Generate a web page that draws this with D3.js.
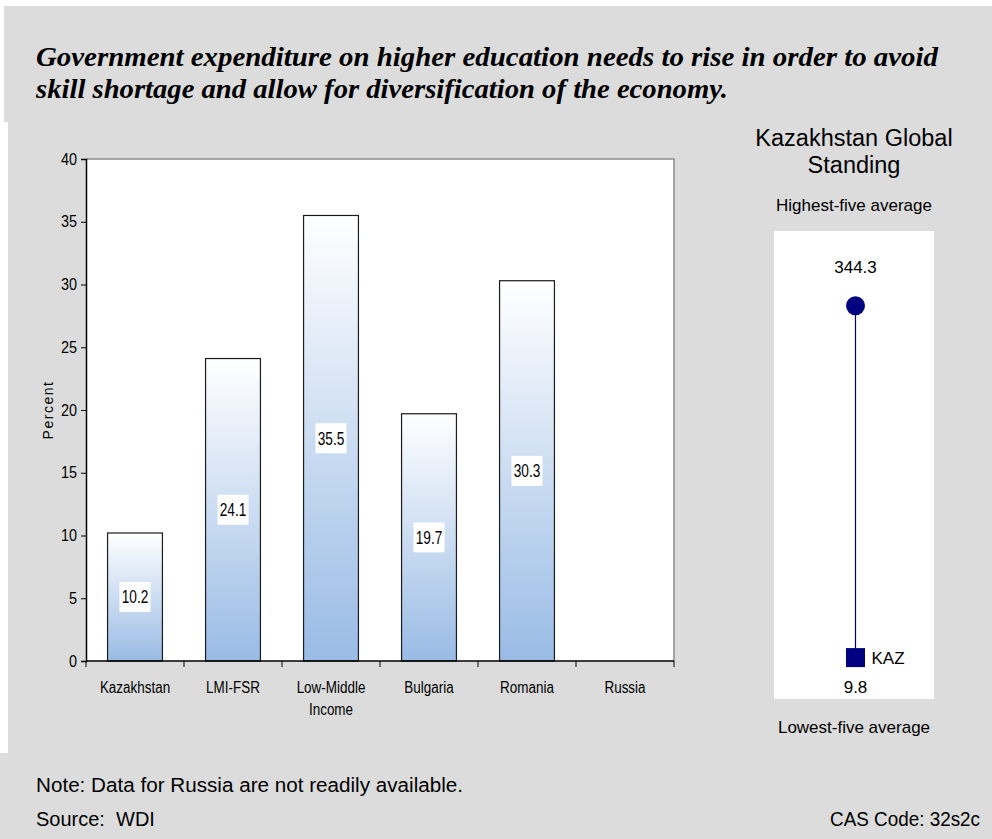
<!DOCTYPE html>
<html>
<head>
<meta charset="utf-8">
<script src="https://cdn.jsdelivr.net/npm/d3@7"></script>
<style>
  html, body { margin: 0; padding: 0; background: #ffffff; }
  svg { display: block; }
  .sans { font-family: "Liberation Sans", Arial, sans-serif; }
  .serif { font-family: "Liberation Serif", "Times New Roman", serif; }
</style>
</head>
<body>
<svg id="chart" width="992" height="839"></svg>
<script>
// Tertiary education spending, percent
const categories = ["Kazakhstan", "LMI-FSR", "Low-Middle Income", "Bulgaria", "Romania", "Russia"];
const categoryLines = [["Kazakhstan"], ["LMI-FSR"], ["Low-Middle", "Income"], ["Bulgaria"], ["Romania"], ["Russia"]];
const values = [10.2, 24.1, 35.5, 19.7, 30.3, null];
const yTicks = [0, 5, 10, 15, 20, 25, 30, 35, 40];

// Global standing panel
const standingLow = 9.8;
const standingHigh = 344.3;
const standingKaz = 18.5;
const standingCountry = "KAZ";

const titleLines = [
  "Government expenditure on higher education needs to rise in order to avoid",
  "skill shortage and allow for diversification of the economy."
];
const noteText = "Note: Data for Russia are not readily available.";
const sourceText = "Source:  WDI";
const codeText = "CAS Code: 32s2c";

const svg = d3.select("#chart");
const grey = "#dcdcdc";
const navy = "#000080";

// condensed lettering: keep the font height, narrow the run of glyphs
function condense(sel, k) {
  sel.each(function () {
    const len = this.getComputedTextLength();
    d3.select(this).attr("textLength", len * k).attr("lengthAdjust", "spacingAndGlyphs");
  });
}
function fitWidth(sel, w) {
  sel.attr("textLength", w).attr("lengthAdjust", "spacingAndGlyphs");
}

// Background panels
svg.append("rect").attr("x", 4).attr("y", 6).attr("width", 988).attr("height", 116).attr("fill", grey);
svg.append("rect").attr("x", 8).attr("y", 121).attr("width", 984).attr("height", 633).attr("fill", grey);
svg.append("rect").attr("x", 0).attr("y", 753).attr("width", 992).attr("height", 86).attr("fill", grey);

// Headline
const titleWidths = [902, 692];
svg.append("g").selectAll("text").data(titleLines).join("text")
  .attr("class", "serif")
  .attr("x", 36)
  .attr("y", (d, i) => 66 + i * 32)
  .attr("font-size", 28)
  .attr("font-weight", "bold")
  .attr("font-style", "italic")
  .attr("fill", "#000")
  .text(d => d)
  .attr("textLength", (d, i) => titleWidths[i])
  .attr("lengthAdjust", "spacingAndGlyphs");

// Bar chart
const plot = { left: 86, right: 674, top: 159, bottom: 661 };
const x = d3.scaleBand().domain(categories)
  .range([plot.left, plot.right]).paddingInner(0.44).paddingOuter(0.22);
const y = d3.scaleLinear().domain([0, 40]).range([plot.bottom, plot.top]);

const defs = svg.append("defs");
const grad = defs.append("linearGradient").attr("id", "barFill")
  .attr("x1", 0).attr("y1", 0).attr("x2", 0).attr("y2", 1);
grad.append("stop").attr("offset", "0%").attr("stop-color", "#ffffff");
grad.append("stop").attr("offset", "100%").attr("stop-color", "#99bbe5");

svg.append("rect")
  .attr("x", plot.left).attr("y", plot.top)
  .attr("width", plot.right - plot.left).attr("height", plot.bottom - plot.top)
  .attr("fill", "#ffffff");
// frame top and right
svg.append("path")
  .attr("d", `M${plot.left},${plot.top}H${plot.right}V${plot.bottom}`)
  .attr("fill", "none").attr("stroke", "#8c8c8c").attr("stroke-width", 1.5);

const data = categories.map((c, i) => ({ c, v: values[i], lines: categoryLines[i] }));
const withValue = data.filter(d => d.v != null);

svg.append("g").selectAll("rect").data(withValue).join("rect")
  .attr("x", d => x(d.c))
  .attr("y", d => y(d.v))
  .attr("width", x.bandwidth())
  .attr("height", d => y(0) - y(d.v))
  .attr("fill", "url(#barFill)")
  .attr("stroke", "#1a1a1a")
  .attr("stroke-width", 1.2);

// value labels in white boxes at bar mid-height
const lab = svg.append("g").selectAll("g").data(withValue).join("g")
  .attr("transform", d => `translate(${x(d.c) + x.bandwidth() / 2},${(y(d.v) + y(0)) / 2})`);
lab.append("rect").attr("x", -15.5).attr("y", -15).attr("width", 31).attr("height", 30).attr("fill", "#fff");
lab.append("text")
  .attr("class", "sans")
  .attr("text-anchor", "middle")
  .attr("dy", "0.36em")
  .attr("font-size", 18)
  .attr("fill", "#000")
  .text(d => d.v.toFixed(1))
  .call(condense, 0.76);

// y axis
const yAxis = svg.append("g")
  .attr("transform", `translate(${plot.left},0)`)
  .call(d3.axisLeft(y).tickValues(yTicks).tickSize(5).tickPadding(4).tickFormat(d3.format("d")));
yAxis.select(".domain").attr("stroke", "#000").attr("stroke-width", 1.5);
yAxis.selectAll(".tick line").attr("stroke", "#000");
yAxis.selectAll("text").attr("class", "sans").attr("font-size", 16).attr("fill", "#000")
  .call(condense, 0.9);

// x axis
svg.append("line")
  .attr("x1", plot.left).attr("x2", plot.right)
  .attr("y1", y(0)).attr("y2", y(0))
  .attr("stroke", "#000").attr("stroke-width", 1.5);
const bounds = d3.range(categories.length + 1).map(i => x.range()[0] + i * x.step());
svg.append("g").selectAll("line").data(bounds).join("line")
  .attr("x1", d => d).attr("x2", d => d)
  .attr("y1", y(0)).attr("y2", y(0) + 6)
  .attr("stroke", "#000");
const xl = svg.append("g").selectAll("text").data(data).join("text")
  .attr("class", "sans")
  .attr("text-anchor", "middle")
  .attr("font-size", 16)
  .attr("fill", "#000")
  .attr("x", d => x(d.c) + x.bandwidth() / 2)
  .attr("y", 693);
xl.selectAll("tspan").data(d => d.lines).join("tspan")
  .attr("x", function () { return d3.select(this.parentNode).attr("x"); })
  .attr("dy", (d, i) => i === 0 ? 0 : 22)
  .text(d => d)
  .call(condense, 0.84);

svg.append("text")
  .attr("class", "sans")
  .attr("transform", `translate(53,${(plot.top + plot.bottom) / 2}) rotate(-90)`)
  .attr("text-anchor", "middle")
  .attr("font-size", 14)
  .attr("letter-spacing", 1.5)
  .attr("fill", "#000")
  .text("Percent");

// Global standing panel
const cx = 855.5;
svg.append("g").selectAll("text").data(["Kazakhstan Global", "Standing"]).join("text")
  .attr("class", "sans").attr("text-anchor", "middle")
  .attr("x", 854).attr("y", (d, i) => 146 + i * 27)
  .attr("font-size", 23.5).attr("fill", "#000").text(d => d);
svg.append("text").attr("class", "sans").attr("text-anchor", "middle")
  .attr("x", 854).attr("y", 211).attr("font-size", 17).attr("fill", "#000")
  .text("Highest-five average");
svg.append("rect").attr("x", 774).attr("y", 231).attr("width", 160).attr("height", 468).attr("fill", "#fff");

const ys = d3.scaleLinear().domain([standingLow, standingHigh]).range([667, 305.7]);
svg.append("line").attr("x1", cx).attr("x2", cx)
  .attr("y1", ys(standingLow)).attr("y2", ys(standingHigh))
  .attr("stroke", navy).attr("stroke-width", 1.2);
svg.append("circle").attr("cx", cx).attr("cy", ys(standingHigh)).attr("r", 9.5).attr("fill", navy);
svg.append("rect").attr("x", cx - 9.5).attr("y", ys(standingKaz) - 9.5)
  .attr("width", 19).attr("height", 19).attr("fill", navy);
svg.append("text").attr("class", "sans").attr("x", cx + 16).attr("y", ys(standingKaz) + 6)
  .attr("font-size", 17).attr("fill", "#000").text(standingCountry);
svg.append("text").attr("class", "sans").attr("text-anchor", "middle")
  .attr("x", cx).attr("y", ys(standingHigh) - 33).attr("font-size", 17).attr("fill", "#000")
  .text(standingHigh.toFixed(1));
svg.append("text").attr("class", "sans").attr("text-anchor", "middle")
  .attr("x", cx).attr("y", ys(standingLow) + 26).attr("font-size", 17).attr("fill", "#000")
  .text(standingLow.toFixed(1));
svg.append("text").attr("class", "sans").attr("text-anchor", "middle")
  .attr("x", 854).attr("y", 733).attr("font-size", 17).attr("fill", "#000")
  .text("Lowest-five average");

// Footer
svg.append("text").attr("class", "sans").attr("x", 36).attr("y", 792)
  .attr("font-size", 20).attr("fill", "#000").text(noteText).call(fitWidth, 427);
svg.append("text").attr("class", "sans").attr("x", 36).attr("y", 826)
  .attr("font-size", 20).attr("fill", "#000").attr("xml:space", "preserve").style("white-space", "pre")
  .text(sourceText);
svg.append("text").attr("class", "sans").attr("x", 980).attr("y", 826)
  .attr("text-anchor", "end").attr("font-size", 20).attr("fill", "#000").text(codeText).call(fitWidth, 150);
</script>
</body>
</html>
